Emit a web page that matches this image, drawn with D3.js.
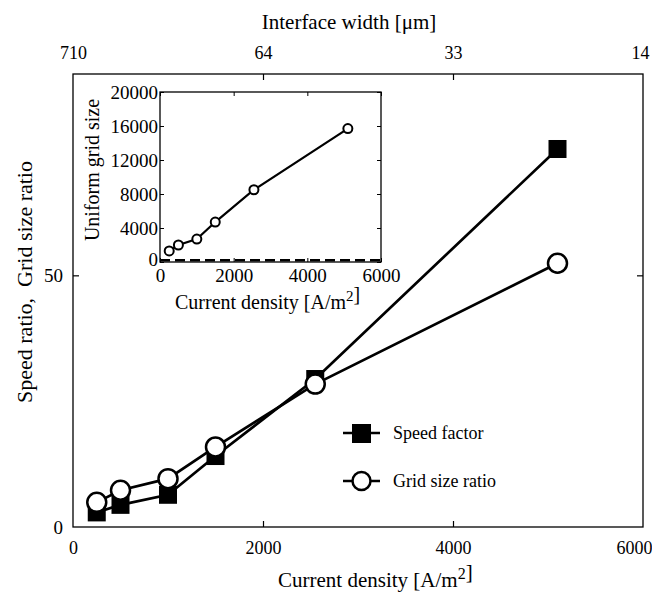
<!DOCTYPE html>
<html>
<head>
<meta charset="utf-8">
<script src="https://cdn.jsdelivr.net/npm/d3@7"></script>
<style>
  body { margin: 0; background: #fff; }
  text { font-family: "Liberation Serif", "Times New Roman", serif; fill: #000; }
</style>
</head>
<body>
<script>
// current density [A/m2]
var density = [250, 500, 1000, 1500, 2550, 5100];
var speedFactor = [2.9, 4.4, 6.4, 14.1, 29.4, 75.1];
var gridRatio = [4.9, 7.3, 9.6, 15.9, 28.4, 52.4];
var uniformGrid = [1300, 2000, 2700, 4700, 8500, 15700];
var nonUniformGrid = 200;
var topTickLabels = ["710", "64", "33", "14"];
var xTicks = [0, 2000, 4000, 6000];
var yTicks = [0, 50];
var insetYTicks = [0, 4000, 8000, 12000, 16000, 20000];

var W = 652, H = 594;
var svg = d3.select("body").append("svg").attr("width", W).attr("height", H);

// main plot
var x = d3.scaleLinear().domain([0, 6000]).range([73, 643]);
var y = d3.scaleLinear().domain([0, 90]).range([527, 74]);

svg.append("rect")
  .attr("x", 73).attr("y", 74)
  .attr("width", 570).attr("height", 453)
  .attr("fill", "none").attr("stroke", "#000").attr("stroke-width", 1.3);

var gBottom = svg.append("g").attr("transform", "translate(0,527)")
  .call(d3.axisBottom(x).tickValues(xTicks).tickSizeInner(-6).tickSizeOuter(0).tickPadding(14)
    .tickFormat(d3.format("d")));
var gTop = svg.append("g").attr("transform", "translate(0,74)")
  .call(d3.axisTop(x).tickValues(xTicks).tickSizeInner(-6).tickSizeOuter(0).tickPadding(15)
    .tickFormat(function(d, i) { return topTickLabels[i]; }));
var gLeft = svg.append("g").attr("transform", "translate(73,0)")
  .call(d3.axisLeft(y).tickValues(yTicks).tickSizeInner(-6).tickSizeOuter(0).tickPadding(10));
var gRight = svg.append("g").attr("transform", "translate(643,0)")
  .call(d3.axisRight(y).tickValues(yTicks).tickSizeInner(-6).tickSizeOuter(0).tickFormat(""));

[gBottom, gTop, gLeft, gRight].forEach(function(g) {
  g.select(".domain").remove();
  g.selectAll("line").attr("stroke", "#000").attr("stroke-width", 1.2);
  g.selectAll("text").attr("font-size", "18px").attr("fill", "#000")
    .style("font-family", "Liberation Serif");
});
gLeft.selectAll("text").attr("font-size", "19px");
// hide edge ticks that sit on the frame
gBottom.selectAll(".tick line").filter(function(d) { return d == 0 || d == 6000; }).remove();
gTop.selectAll(".tick line").filter(function(d) { return d == 0 || d == 6000; }).remove();
gLeft.selectAll(".tick line").filter(function(d) { return d == 0; }).remove();
gRight.selectAll(".tick line").filter(function(d) { return d == 0; }).remove();
// keep right-most labels inside the page
gBottom.selectAll(".tick text").filter(function(d) { return d == 6000; }).attr("dx", -9);
gTop.selectAll(".tick text").filter(function(d) { return d == 6000; }).attr("dx", -3);

svg.append("text")
  .attr("x", 278).attr("y", 587)
  .attr("font-size", "21px")
  .html('Current density [A/m<tspan dy="-8" font-size="16px">2</tspan>]');

svg.append("text")
  .attr("x", 349).attr("y", 29)
  .attr("text-anchor", "middle").attr("font-size", "21px")
  .text("Interface width [\u03bcm]");

svg.append("text")
  .attr("transform", "translate(32,282) rotate(-90)")
  .attr("text-anchor", "middle").attr("font-size", "22px")
  .text("Speed ratio,\u00a0 Grid size ratio");

var line = d3.line().x(function(d) { return x(d[0]); }).y(function(d) { return y(d[1]); });
var speedData = density.map(function(d, i) { return [d, speedFactor[i]]; });
var gridData = density.map(function(d, i) { return [d, gridRatio[i]]; });

svg.append("path").datum(speedData).attr("d", line)
  .attr("fill", "none").attr("stroke", "#000").attr("stroke-width", 2.7);
svg.selectAll(".sq").data(speedData).enter().append("rect")
  .attr("class", "sq")
  .attr("x", function(d) { return x(d[0]) - 9; })
  .attr("y", function(d) { return y(d[1]) - 9; })
  .attr("width", 18).attr("height", 18)
  .attr("fill", "#000");

svg.append("path").datum(gridData).attr("d", line)
  .attr("fill", "none").attr("stroke", "#000").attr("stroke-width", 2.7);
svg.selectAll(".ci").data(gridData).enter().append("circle")
  .attr("class", "ci")
  .attr("cx", function(d) { return x(d[0]); })
  .attr("cy", function(d) { return y(d[1]); })
  .attr("r", 9.5)
  .attr("fill", "#fff").attr("stroke", "#000").attr("stroke-width", 2.5);

// legend
var lg = svg.append("g");
lg.append("line").attr("x1", 343).attr("x2", 380).attr("y1", 433).attr("y2", 433)
  .attr("stroke", "#000").attr("stroke-width", 2.5);
lg.append("rect").attr("x", 352).attr("y", 424).attr("width", 19).attr("height", 19).attr("fill", "#000");
lg.append("text").attr("x", 393).attr("y", 439).attr("font-size", "18px").text("Speed factor");
lg.append("line").attr("x1", 343).attr("x2", 380).attr("y1", 481).attr("y2", 481)
  .attr("stroke", "#000").attr("stroke-width", 2.5);
lg.append("circle").attr("cx", 361.5).attr("cy", 481).attr("r", 9)
  .attr("fill", "#fff").attr("stroke", "#000").attr("stroke-width", 2.5);
lg.append("text").attr("x", 393).attr("y", 487).attr("font-size", "18px").text("Grid size ratio");

// inset
var ix = d3.scaleLinear().domain([0, 6000]).range([160, 381]);
var iy = d3.scaleLinear().domain([0, 20000]).range([262, 92]);

svg.append("rect")
  .attr("x", 160).attr("y", 92)
  .attr("width", 221).attr("height", 170)
  .attr("fill", "#fff").attr("stroke", "#000").attr("stroke-width", 1.3);

var ib = svg.append("g").attr("transform", "translate(0,262)")
  .call(d3.axisBottom(ix).tickValues(xTicks).tickSizeInner(-4).tickSizeOuter(0).tickPadding(7)
    .tickFormat(d3.format("d")));
var it = svg.append("g").attr("transform", "translate(0,92)")
  .call(d3.axisTop(ix).tickValues(xTicks).tickSizeInner(-4).tickSizeOuter(0).tickFormat(""));
var il = svg.append("g").attr("transform", "translate(160,0)")
  .call(d3.axisLeft(iy).tickValues(insetYTicks).tickSizeInner(-4).tickSizeOuter(0).tickPadding(2)
    .tickFormat(d3.format("d")));
var ir = svg.append("g").attr("transform", "translate(381,0)")
  .call(d3.axisRight(iy).tickValues(insetYTicks).tickSizeInner(-4).tickSizeOuter(0).tickFormat(""));

[ib, it, il, ir].forEach(function(g) {
  g.select(".domain").remove();
  g.selectAll("line").attr("stroke", "#000").attr("stroke-width", 1);
  g.selectAll("text").attr("font-size", "19px").attr("fill", "#000")
    .style("font-family", "Liberation Serif");
});
// lift the lowest y label a little so it clears the x label "0"
il.selectAll(".tick text").filter(function(d) { return d == 0; }).attr("dy", "0.2em");

svg.append("line")
  .attr("x1", ix(0)).attr("x2", ix(6000))
  .attr("y1", iy(nonUniformGrid)).attr("y2", iy(nonUniformGrid))
  .attr("stroke", "#000").attr("stroke-width", 2.5).attr("stroke-dasharray", "10,5");

var insetData = density.map(function(d, i) { return [d, uniformGrid[i]]; });
var iline = d3.line().x(function(d) { return ix(d[0]); }).y(function(d) { return iy(d[1]); });
svg.append("path").datum(insetData).attr("d", iline)
  .attr("fill", "none").attr("stroke", "#000").attr("stroke-width", 2.2);
svg.selectAll(".ic").data(insetData).enter().append("circle")
  .attr("class", "ic")
  .attr("cx", function(d) { return ix(d[0]); })
  .attr("cy", function(d) { return iy(d[1]); })
  .attr("r", 4.5)
  .attr("fill", "#fff").attr("stroke", "#000").attr("stroke-width", 2);

svg.append("text")
  .attr("x", 175).attr("y", 309)
  .attr("font-size", "20px")
  .html('Current density [A/m<tspan dy="-8" font-size="15px">2</tspan>]');

svg.append("text")
  .attr("transform", "translate(99,170) rotate(-90)")
  .attr("text-anchor", "middle").attr("font-size", "20px")
  .text("Uniform grid size");
</script>
</body>
</html>
